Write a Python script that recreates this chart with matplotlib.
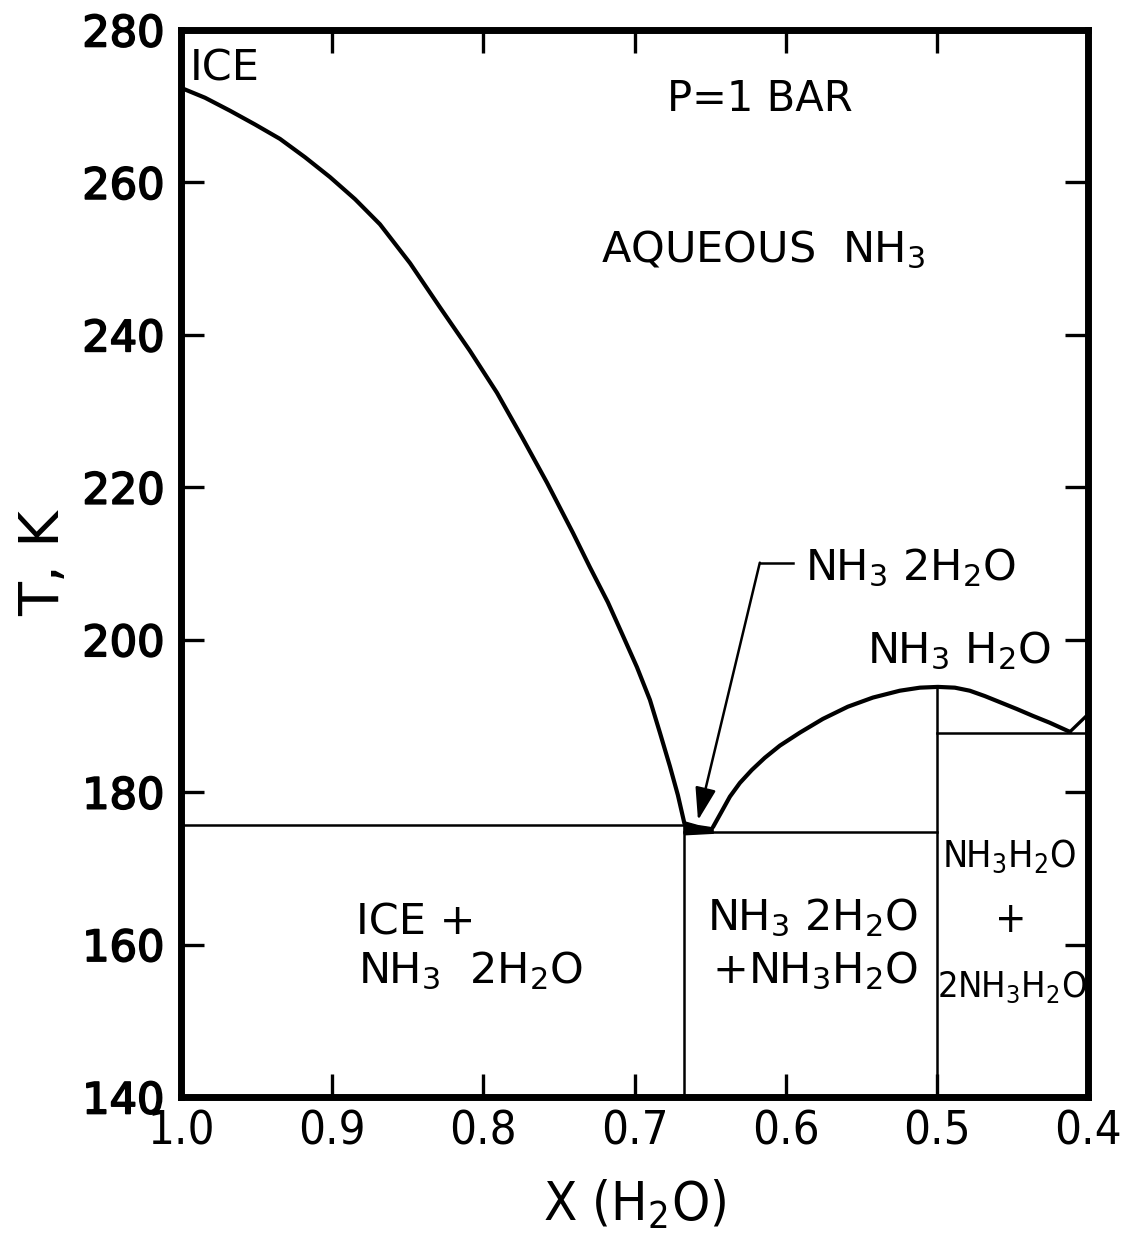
import matplotlib
matplotlib.use('Agg')
import matplotlib.pyplot as plt
import matplotlib.patheffects as pe
from matplotlib import font_manager
from matplotlib.font_manager import FontProperties

# ice liquidus, x = mole fraction H2O, T in K
ice_x = [1.0, 0.9841, 0.9676, 0.9511, 0.9345, 0.9180, 0.9015, 0.8849,
         0.8684, 0.8485, 0.8287, 0.8089, 0.7910, 0.7745, 0.7579, 0.7407,
         0.7295, 0.7176, 0.7083, 0.6984, 0.6898, 0.6832, 0.6766, 0.6713, 0.667]
ice_T = [272.4, 271.1, 269.4, 267.6, 265.7, 263.3, 260.7, 257.8,
         254.5, 249.4, 243.6, 237.9, 232.4, 226.6, 220.6, 214.0,
         209.5, 204.9, 200.8, 196.4, 192.1, 187.8, 183.4, 179.6, 175.9]

# NH3.H2O liquidus
mono_x = [0.6481, 0.6422, 0.6369, 0.6303, 0.6224, 0.6138, 0.6038, 0.5906,
          0.5754, 0.5589, 0.5423, 0.5245, 0.5112, 0.4993, 0.4881, 0.4782,
          0.4683, 0.4583, 0.4471, 0.4365, 0.4253, 0.4120]
mono_T = [175.4, 177.5, 179.4, 181.2, 182.9, 184.5, 186.1, 187.8,
          189.6, 191.2, 192.4, 193.3, 193.7, 193.8, 193.7, 193.3,
          192.6, 191.8, 190.9, 190.0, 189.1, 187.9]

# start of the 2NH3.H2O liquidus at the right edge
hemi_x = [0.412, 0.4]
hemi_T = [187.9, 190.2]

# small NH3.2H2O melting wedge
di_x = [0.667, 0.658, 0.648, 0.648, 0.667]
di_T = [176.1, 175.6, 175.3, 174.6, 174.4]

# eutectic horizontals
eut_T = [175.7, 174.8, 187.75]
eut_x0 = [1.0, 0.667, 0.5]
eut_x1 = [0.667, 0.5, 0.4]

# compound verticals
comp_x = [0.667, 0.5]
comp_top = [175.7, 193.8]

xticks = [1.0, 0.9, 0.8, 0.7, 0.6, 0.5, 0.4]
xtick_labels = ['1.0', '0.9', '0.8', '0.7', '0.6', '0.5', '0.4']
yticks = [140, 160, 180, 200, 220, 240, 260, 280]

plt.rcParams['font.family'] = 'DejaVu Sans'

# look for a condensed face for the narrow lettering
narrow_file = None
for f in font_manager.fontManager.ttflist:
    fn = f.fname.lower()
    if 'dejavusanscondensed.ttf' in fn or 'liberationsansnarrow-regular' in fn:
        narrow_file = f.fname
        break


def narrow(size, fallback):
    if narrow_file:
        return FontProperties(fname=narrow_file, size=size)
    return FontProperties(family='DejaVu Sans', size=fallback)


fig = plt.figure(figsize=(11.27, 12.36), dpi=100)
ax = fig.add_axes([0.1606, 0.1125, 0.8048, 0.8633])

ax.plot(ice_x, ice_T, color='black', lw=3.0, solid_capstyle='round')
ax.plot(mono_x, mono_T, color='black', lw=3.0, solid_capstyle='round')
ax.plot(hemi_x, hemi_T, color='black', lw=2.4)
ax.fill(di_x, di_T, color='black', lw=1.0)

for t, a, b in zip(eut_T, eut_x0, eut_x1):
    ax.plot([a, b], [t, t], color='black', lw=1.8)
for x, top in zip(comp_x, comp_top):
    ax.plot([x, x], [140, top], color='black', lw=1.8)

# pointer to the dihydrate
ax.plot([0.6171, 0.5952], [210.1, 210.1], color='black', lw=1.8)
ax.annotate('', xy=(0.658, 176.3), xytext=(0.6171, 210.1),
            arrowprops=dict(arrowstyle='-|>,head_length=1.0,head_width=0.32',
                            mutation_scale=20, lw=1.8, color='black',
                            shrinkA=0, shrinkB=0))

ax.set_xlim(1.0, 0.4)
ax.set_ylim(140, 280)
ax.set_xticks(xticks)
ax.set_xticklabels(xtick_labels, fontproperties=narrow(34, 29))
ax.set_yticks(yticks)
ax.set_yticklabels([str(v) for v in yticks], fontsize=31)
for lab in ax.get_yticklabels():
    lab.set_path_effects([pe.withStroke(linewidth=1.3, foreground='black')])

ax.tick_params(direction='in', length=16.5, width=2.4, top=True, right=True,
               labeltop=False, labelright=False)
ax.tick_params(axis='y', pad=12)
ax.tick_params(axis='x', pad=9)
for s in ax.spines.values():
    s.set_linewidth(5)

ax.set_ylabel('T, K', fontsize=40, labelpad=8)
ax.set_xlabel(r'X (H$_{\mathregular{2}}$O)', fontproperties=narrow(39, 34), labelpad=17)

# region labels
sub3 = r'$_{\mathregular{3}}$'
sub2 = r'$_{\mathregular{2}}$'
ax.text(0.994, 273.3, 'ICE', fontsize=31, ha='left', va='baseline')
ax.text(0.617, 269.4, 'P=1 BAR', fontsize=30, ha='center', va='baseline')
ax.text(0.615, 249.6, 'AQUEOUS  NH' + sub3, fontsize=31, ha='center', va='baseline')
ax.text(0.5873, 207.8, 'NH' + sub3 + ' 2H' + sub2 + 'O', fontsize=31, ha='left', va='baseline')
ax.text(0.5463, 196.9, 'NH' + sub3 + ' H' + sub2 + 'O', fontsize=31, ha='left', va='baseline')
ax.text(0.8843, 161.25, 'ICE +', fontsize=31, ha='left', va='baseline')
ax.text(0.883, 154.95, 'NH' + sub3 + '  2H' + sub2 + 'O', fontsize=31, ha='left', va='baseline')
ax.text(0.652, 161.9, 'NH' + sub3 + ' 2H' + sub2 + 'O', fontsize=31, ha='left', va='baseline')
ax.text(0.6488, 154.95, '+NH' + sub3 + 'H' + sub2 + 'O', fontsize=31, ha='left', va='baseline')
ax.text(0.452, 170.2, 'NH' + sub3 + 'H' + sub2 + 'O', fontproperties=narrow(27, 23),
        ha='center', va='baseline')
ax.text(0.451, 163.2, '+', fontproperties=narrow(30, 26), ha='center', va='center')
ax.text(0.4505, 153.1, '2NH' + sub3 + 'H' + sub2 + 'O', fontproperties=narrow(26, 21),
        ha='center', va='baseline')

fig.savefig('out.png', dpi=100)
